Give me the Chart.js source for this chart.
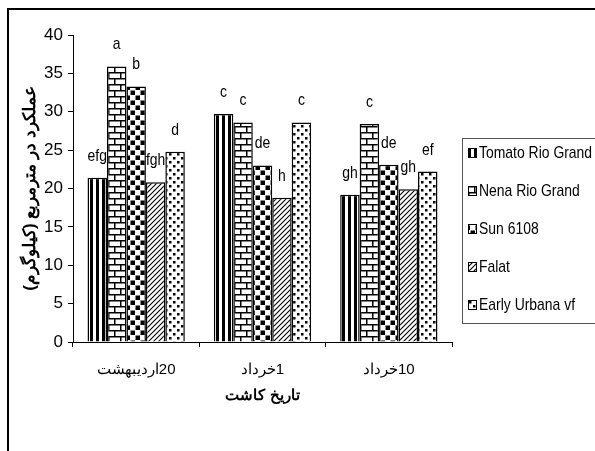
<!DOCTYPE html>
<html>
<head>
<meta charset="utf-8">
<script src="https://cdn.jsdelivr.net/npm/chart.js@4.4.1/dist/chart.umd.min.js"></script>
<style>
  html, body { margin: 0; padding: 0; background: #fff; }
  canvas { display: block; }
</style>
</head>
<body>
<canvas id="chart" width="595" height="451"></canvas>
<script>
const categories = ['اردیبهشت\u200E20', 'خرداد\u200E1', 'خرداد\u200E10'];
const seriesNames = ['Tomato Rio Grand', 'Nena Rio Grand', 'Sun 6108', 'Falat', 'Early Urbana vf'];
const tomatoRio = [21.4, 29.7, 19.2];
const nenaRio = [35.9, 28.6, 28.4];
const sun6108 = [33.3, 23.0, 23.1];
const falat = [20.8, 18.8, 19.9];
const earlyUrbana = [24.8, 28.6, 22.2];
const letters = [
    ['efg', 'c', 'gh'],
    ['a', 'c', 'c'],
    ['b', 'de', 'de'],
    ['fgh', 'h', 'gh'],
    ['d', 'c', 'ef']
];
const yTicks = [0, 5, 10, 15, 20, 25, 30, 35, 40];

const FONT = '"Liberation Sans", Arial, sans-serif';

function makePattern(kind) {
    const c = document.createElement('canvas');
    const g = c.getContext('2d');
    let s = 8;
    if (kind === 'stripes') {
        s = 6; c.width = s; c.height = s;
        g.fillStyle = '#fff'; g.fillRect(0, 0, s, s);
        g.fillStyle = '#000'; g.fillRect(0, 0, 3, s);
    } else if (kind === 'bricks') {
        c.width = 12; c.height = 12;
        g.fillStyle = '#fff'; g.fillRect(0, 0, 12, 12);
        g.fillStyle = '#000';
        g.fillRect(0, 0, 12, 1.5);
        g.fillRect(0, 6, 12, 1.5);
        g.fillRect(0, 0, 1.5, 6);
        g.fillRect(6, 6, 1.5, 6);
    } else if (kind === 'checker') {
        c.width = 10; c.height = 10;
        g.fillStyle = '#fff'; g.fillRect(0, 0, 10, 10);
        g.fillStyle = '#000';
        g.fillRect(0.5, 0.5, 4.5, 4.5);
        g.fillRect(5.5, 5.5, 4.5, 4.5);
    } else if (kind === 'hatch') {
        s = 5; c.width = s; c.height = s;
        g.fillStyle = '#fff'; g.fillRect(0, 0, s, s);
        g.strokeStyle = '#000'; g.lineWidth = 1.1;
        g.beginPath();
        g.moveTo(-1, s + 1); g.lineTo(s + 1, -1);
        g.moveTo(-1, 1); g.lineTo(1, -1);
        g.moveTo(s - 1, s + 1); g.lineTo(s + 1, s - 1);
        g.stroke();
    } else if (kind === 'dots') {
        c.width = 8; c.height = 8;
        g.fillStyle = '#fff'; g.fillRect(0, 0, 8, 8);
        g.fillStyle = '#000';
        g.fillRect(1, 1, 2.5, 2.5);
        g.fillRect(5, 5, 2.5, 2.5);
    }
    return g.createPattern(c, 'repeat');
}

const patterns = [
    makePattern('stripes'),
    makePattern('bricks'),
    makePattern('checker'),
    makePattern('hatch'),
    makePattern('dots')
];
const seriesData = [tomatoRio, nenaRio, sun6108, falat, earlyUrbana];

// narrow text, the original uses a condensed Arial
function narrowText(ctx, text, x, y, squeeze) {
    ctx.save();
    ctx.translate(x, y);
    ctx.scale(squeeze, 1);
    ctx.fillText(text, 0, 0);
    ctx.restore();
}

const framePlugin = {
    id: 'frame',
    beforeDraw(chart) {
        const ctx = chart.ctx;
        ctx.save();
        ctx.fillStyle = '#fff';
        ctx.fillRect(0, 0, chart.width, chart.height);
        ctx.strokeStyle = '#000';
        ctx.lineWidth = 2;
        ctx.strokeRect(8, 9, 800, 800);
        ctx.restore();
    }
};

const letterPlugin = {
    id: 'letters',
    afterDatasetsDraw(chart) {
        const ctx = chart.ctx;
        ctx.save();
        ctx.fillStyle = '#000';
        ctx.font = '17px ' + FONT;
        ctx.textAlign = 'center';
        ctx.textBaseline = 'alphabetic';
        chart.data.datasets.forEach((ds, i) => {
            chart.getDatasetMeta(i).data.forEach((bar, j) => {
                narrowText(ctx, letters[i][j], bar.x, bar.y - 17, 0.82);
            });
        });
        ctx.restore();
    }
};

const legendPlugin = {
    id: 'boxLegend',
    afterDraw(chart) {
        const ctx = chart.ctx;
        const x0 = 462, y0 = 138, y1 = 323;
        ctx.save();
        ctx.strokeStyle = '#555';
        ctx.lineWidth = 1;
        ctx.strokeRect(x0 + 0.5, y0 + 0.5, 200, y1 - y0);
        ctx.font = '17px ' + FONT;
        ctx.textBaseline = 'middle';
        seriesNames.forEach((name, i) => {
            const cy = 153 + i * 38;
            ctx.fillStyle = patterns[i];
            ctx.fillRect(468, cy - 5, 8, 9);
            ctx.strokeStyle = '#000';
            ctx.strokeRect(468.5, cy - 4.5, 8, 9);
            ctx.fillStyle = '#000';
            narrowText(ctx, name, 479, cy, 0.82);
        });
        ctx.restore();
    }
};

new Chart(document.getElementById('chart'), {
    type: 'bar',
    data: {
        labels: categories,
        datasets: seriesNames.map((name, i) => ({
            label: name,
            data: seriesData[i],
            backgroundColor: patterns[i],
            borderColor: '#000',
            borderWidth: 1.5,
            borderSkipped: 'bottom',
            barPercentage: 1,
            categoryPercentage: 0.77
        }))
    },
    options: {
        responsive: false,
        animation: false,
        devicePixelRatio: 1,
        layout: { padding: { left: 0, right: 143, top: 35, bottom: 0 } },
        plugins: {
            legend: { display: false },
            tooltip: { enabled: false }
        },
        scales: {
            x: {
                afterFit(scale) { scale.height = 109; },
                grid: { drawOnChartArea: false, drawTicks: true, tickLength: 5, color: '#000', offset: true },
                border: { display: true, color: '#000', width: 1 },
                ticks: { color: '#000', padding: 14, font: { family: FONT, size: 15 } },
                title: {
                    display: true,
                    text: 'تاریخ کاشت',
                    color: '#000',
                    font: { family: FONT, size: 15, weight: 'bold' },
                    padding: { top: 6, bottom: 46 }
                }
            },
            y: {
                min: 0,
                max: 40,
                afterFit(scale) { scale.width = 73; },
                afterBuildTicks(scale) { scale.ticks = yTicks.map(v => ({ value: v })); },
                grid: { drawOnChartArea: false, drawTicks: true, tickLength: 5, color: '#000' },
                border: { display: true, color: '#000', width: 1 },
                ticks: { color: '#000', padding: 5, font: { family: FONT, size: 17 } },
                title: {
                    display: true,
                    text: 'عملکرد در مترمربع (کیلوگرم)',
                    color: '#000',
                    font: { family: FONT, size: 17, weight: 'bold' },
                    padding: { top: 20, bottom: 0 }
                }
            }
        }
    },
    plugins: [framePlugin, letterPlugin, legendPlugin]
});
</script>
</body>
</html>
